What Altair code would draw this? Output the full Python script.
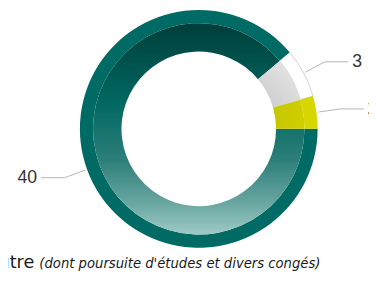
import math
import altair as alt
import pandas as pd

# ---- data ----
categories = ["Principal", "Autre", "Divers"]
values = [40, 3, 2]
labels = ["40", "3", "2"]
legend_main = "Autre"
legend_note = "(dont poursuite d'études et divers congés)"

# ---- geometry / style ----
W, H = 369, 273
CX, CY = 195, 120.5
R_OUT, R_RIM, R_IN = 121.5, 108, 79
ELBOW_R = 146
HLEN = 24
GAP = 4
START_DEG = 90

total = sum(values)
starts, ends, acc = [], [], 0
for v in values:
    starts.append(acc)
    acc += v
    ends.append(acc)
df = pd.DataFrame({"cat": categories, "value": values, "start": starts, "end": ends, "label": labels})

theta_scale = alt.Scale(domain=[0, total],
                        range=[math.radians(START_DEG), math.radians(START_DEG) + 2 * math.pi])

def arc_layer(cat, fill, r_in, r_out, stroke=None, sw=0):
    kw = dict(innerRadius=r_in, outerRadius=r_out, fill=fill)
    if stroke:
        kw.update(stroke=stroke, strokeWidth=sw)
    else:
        kw.update(strokeWidth=0)
    return (alt.Chart(df)
            .transform_filter(alt.datum.cat == cat)
            .mark_arc(**kw)
            .encode(theta=alt.Theta("start:Q", scale=theta_scale),
                    theta2="end:Q",
                    x=alt.value(CX), y=alt.value(CY)))

def lin(stops, x1=0, y1=0, x2=0, y2=1):
    return alt.Gradient(gradient="linear", x1=x1, y1=y1, x2=x2, y2=y2,
                        stops=[alt.GradientStop(offset=o, color=c) for o, c in stops])

teal_inner = lin([(0, "#003e3a"), (0.38, "#016862"), (0.65, "#2e7f7a"),
                  (0.85, "#69a6a1"), (1, "#9fcac5")])
grey_inner = lin([(0, "#c9c9c9"), (1, "#e9e9e9")], x1=0, y1=1, x2=1, y2=0)
yellow_inner = lin([(0, "#c6c600"), (1, "#cfcf00")], x1=0, y1=0, x2=1, y2=0)

arcs = [
    arc_layer("Principal", "#006a64", R_RIM, R_OUT),
    arc_layer("Principal", teal_inner, R_IN, R_RIM),
    arc_layer("Autre", "#ffffff", R_RIM, R_OUT, stroke="#c8c8c8", sw=0.8),
    arc_layer("Autre", grey_inner, R_IN, R_RIM),
    arc_layer("Divers", "#d6d600", R_RIM, R_OUT),
    arc_layer("Divers", yellow_inner, R_IN, R_RIM),
]

# ---- leader lines and labels, derived from slice mid-angles ----
pts, txt = [], []
for c, s, e, lab in zip(categories, starts, ends, labels):
    mid = math.radians(START_DEG + (s + e) / 2 / total * 360)
    sx, cy_ = math.sin(mid), -math.cos(mid)
    side = 1 if sx >= 0 else -1
    p0 = (CX + (R_OUT + 2) * sx, CY + (R_OUT + 2) * cy_)
    p1 = (CX + ELBOW_R * sx, CY + ELBOW_R * cy_)
    p2 = (p1[0] + side * HLEN, p1[1])
    for i, p in enumerate([p0, p1, p2]):
        pts.append({"cat": c, "i": i, "px": p[0], "py": p[1]})
    txt.append({"label": lab, "px": p2[0] + side * GAP, "py": p2[1],
                "align": "left" if side > 0 else "right"})
pts_df = pd.DataFrame(pts)
txt_df = pd.DataFrame(txt)

xs = alt.Scale(domain=[0, W], range=[0, W])
ys = alt.Scale(domain=[0, H], range=[0, H])

leaders = alt.Chart(pts_df).mark_line(color="#b4b4b4", strokeWidth=1).encode(
    x=alt.X("px:Q", scale=xs, axis=None),
    y=alt.Y("py:Q", scale=ys, axis=None),
    detail="cat:N", order="i:Q")

lab_left = alt.Chart(txt_df).transform_filter(alt.datum.align == "right").mark_text(
    align="right", baseline="middle", font="Liberation Sans", fontSize=18, color="#333333"
).encode(x=alt.X("px:Q", scale=xs, axis=None), y=alt.Y("py:Q", scale=ys, axis=None), text="label:N")
lab_right = alt.Chart(txt_df).transform_filter(alt.datum.align == "left").mark_text(
    align="left", baseline="middle", font="Liberation Sans", fontSize=18, color="#333333"
).encode(x=alt.X("px:Q", scale=xs, axis=None), y=alt.Y("py:Q", scale=ys, axis=None), text="label:N")

legend_df = pd.DataFrame({"t": [legend_main], "note": [legend_note]})
leg_main = alt.Chart(legend_df).mark_text(
    align="left", baseline="alphabetic", font="DejaVu Sans", fontSize=18, color="#1a1a1a"
).encode(x=alt.value(-22), y=alt.value(263), text="t:N")
leg_note = alt.Chart(legend_df).mark_text(
    align="left", baseline="alphabetic", font="DejaVu Sans", fontSize=13.5, fontStyle="italic", color="#1a1a1a"
).encode(x=alt.value(32), y=alt.value(263), text="note:N")

chart = alt.layer(*arcs, leaders, lab_left, lab_right, leg_main, leg_note).properties(
    width=W, height=H, padding=0, autosize=alt.AutoSizeParams(type="none")
).configure_view(stroke=None).resolve_scale(x="shared", y="shared")

chart.save("out.html", embed_options={"renderer": "svg", "actions": False})
